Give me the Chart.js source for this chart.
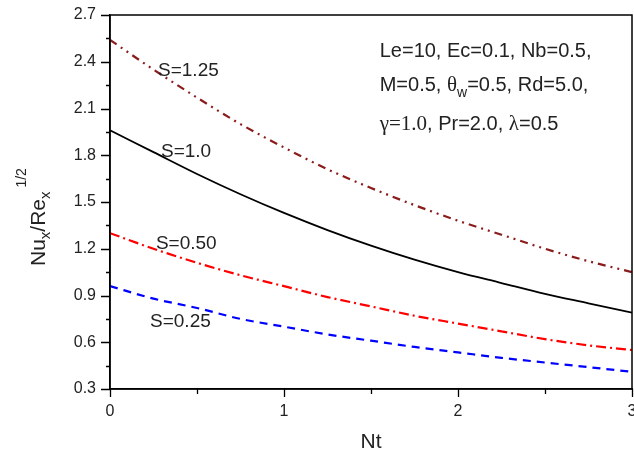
<!DOCTYPE html>
<html>
<head>
<meta charset="utf-8">
<script src="https://cdn.jsdelivr.net/npm/chart.js@4/dist/chart.umd.min.js"></script>
<style>
  body { margin: 0; background: #fff; }
  #wrap { width: 634px; height: 461px; }
</style>
</head>
<body>
<div id="wrap"><canvas id="myChart" width="634" height="461"></canvas></div>
<script>
// Nt values along the x axis
var ntValues = [0, 0.25, 0.5, 0.75, 1.0, 1.25, 1.5, 1.75, 2.0, 2.25, 2.5, 2.75, 3.0];

// Nu_x/Re_x^(1/2), one array per S
var s125 = [2.54, 2.35, 2.17, 2.00, 1.85, 1.71, 1.59, 1.48, 1.38, 1.29, 1.20, 1.12, 1.05];
var s100 = [1.96, 1.82, 1.68, 1.55, 1.43, 1.32, 1.22, 1.13, 1.05, 0.98, 0.91, 0.85, 0.79];
var s050 = [1.30, 1.20, 1.11, 1.03, 0.96, 0.89, 0.83, 0.77, 0.72, 0.67, 0.62, 0.58, 0.55];
var s025 = [0.96, 0.88, 0.82, 0.75, 0.70, 0.65, 0.61, 0.57, 0.535, 0.50, 0.47, 0.44, 0.41];

var seriesNames = ['S=1.25', 'S=1.0', 'S=0.50', 'S=0.25'];
var xTickLabels = ['0', '1', '2', '3'];
var yTickLabels = ['0.3', '0.6', '0.9', '1.2', '1.5', '1.8', '2.1', '2.4', '2.7'];

var SANS = "'Liberation Sans', Arial, sans-serif";
var SERIF = "'Liberation Serif', 'Times New Roman', serif";

function pts(ys) {
    return ys.map(function (y, i) { return { x: ntValues[i], y: y }; });
}

// where the curve labels sit, in data units (x = Nt, y = baseline value)
var labelSpots = [
    { x: 0.276, y: 2.31 },
    { x: 0.293, y: 1.79 },
    { x: 0.264, y: 1.20 },
    { x: 0.230, y: 0.70 }
];

var decorations = {
    id: 'decorations',
    afterDraw: function (chart) {
        var ctx = chart.ctx;
        var a = chart.chartArea;
        var xs = chart.scales.x, ys = chart.scales.y;
        ctx.save();

        // box round the plot
        ctx.strokeStyle = '#000';
        ctx.lineWidth = 1.5;
        ctx.strokeRect(a.left, a.top, a.right - a.left, a.bottom - a.top);

        // tick marks: long on labelled ticks, short on the others
        ctx.lineWidth = 1.3;
        ctx.beginPath();
        xs.ticks.forEach(function (t, i) {
            var px = Math.round(xs.getPixelForTick(i)) + 0.5;
            var len = t.label !== '' ? 8 : 5;
            ctx.moveTo(px, a.bottom);
            ctx.lineTo(px, a.bottom + len);
        });
        ys.ticks.forEach(function (t, i) {
            var py = Math.round(ys.getPixelForTick(i)) + 0.5;
            var len = t.label !== '' ? 9 : 4;
            ctx.moveTo(a.left, py);
            ctx.lineTo(a.left - len, py);
        });
        ctx.stroke();

        // curve labels
        ctx.fillStyle = '#222';
        ctx.font = '19px ' + SANS;
        ctx.textBaseline = 'alphabetic';
        ctx.textAlign = 'left';
        seriesNames.forEach(function (name, i) {
            ctx.fillText(name, xs.getPixelForValue(labelSpots[i].x), ys.getPixelForValue(labelSpots[i].y));
        });

        // parameter block
        function runs(x, y, parts) {
            parts.forEach(function (p) {
                ctx.font = p.f;
                ctx.fillText(p.t, x, y + (p.dy || 0));
                x += ctx.measureText(p.t).width;
            });
        }
        var bx = xs.getPixelForValue(1.55);
        var big = '20px ' + SANS, sub = '14px ' + SANS, ser = '21px ' + SERIF;
        runs(bx, ys.getPixelForValue(2.43), [{ t: 'Le=10, Ec=0.1, Nb=0.5,', f: big }]);
        runs(bx, ys.getPixelForValue(2.21), [
            { t: 'M=0.5, ', f: big },
            { t: '\u03B8', f: ser },
            { t: 'w', f: sub, dy: 6 },
            { t: '=0.5, Rd=5.0,', f: big }
        ]);
        runs(bx, ys.getPixelForValue(1.96), [
            { t: '\u03B3=1.0', f: ser },
            { t: ', Pr=2.0, ', f: big },
            { t: '\u03BB', f: ser },
            { t: '=0.5', f: big }
        ]);

        // x axis title
        ctx.font = '21px ' + SANS;
        ctx.textAlign = 'center';
        ctx.fillText('Nt', (a.left + a.right) / 2, 448);

        // y axis title, rotated
        ctx.translate(45, 266);
        ctx.rotate(-Math.PI / 2);
        ctx.textAlign = 'left';
        runs(0, 0, [
            { t: 'Nu', f: '21px ' + SANS },
            { t: 'x', f: '15px ' + SANS, dy: 5 },
            { t: '/Re', f: '21px ' + SANS },
            { t: 'x', f: '15px ' + SANS, dy: 5 },
            { t: ' 1/2', f: '14px ' + SANS, dy: -19 }
        ]);
        ctx.restore();
    }
};

var ctx = document.getElementById('myChart').getContext('2d');
var chart = new Chart(ctx, {
    type: 'line',
    data: {
        datasets: [
            { label: seriesNames[0], data: pts(s125), borderColor: '#8B1C1C', borderWidth: 2.2, borderDash: [8, 5, 2, 5, 2, 5] },
            { label: seriesNames[1], data: pts(s100), borderColor: '#000000', borderWidth: 1.8 },
            { label: seriesNames[2], data: pts(s050), borderColor: '#FF0000', borderWidth: 2.2, borderDash: [10, 4, 2, 4] },
            { label: seriesNames[3], data: pts(s025), borderColor: '#0000FF', borderWidth: 2.2, borderDash: [8, 6] }
        ]
    },
    options: {
        responsive: false,
        animation: false,
        events: [],
        layout: { padding: { left: 0, right: 2, top: 15, bottom: 0 } },
        elements: {
            point: { radius: 0 },
            line: { cubicInterpolationMode: 'monotone', fill: false }
        },
        plugins: { legend: { display: false }, tooltip: { enabled: false } },
        scales: {
            x: {
                type: 'linear',
                min: 0,
                max: 3,
                border: { display: true, color: '#000', width: 1.5 },
                grid: { display: false, drawTicks: false },
                ticks: {
                    stepSize: 0.5,
                    autoSkip: false,
                    maxRotation: 0,
                    padding: 13,
                    color: '#222',
                    font: { family: SANS, size: 16 },
                    callback: function (v) {
                        return Number.isInteger(v) ? xTickLabels[v] : '';
                    }
                },
                afterFit: function (s) { s.height = 72; s.paddingLeft = 0; s.paddingRight = 0; }
            },
            y: {
                min: 0.3,
                max: 2.7,
                border: { display: true, color: '#000', width: 1.5 },
                grid: { display: false, drawTicks: false },
                ticks: {
                    stepSize: 0.15,
                    autoSkip: false,
                    padding: 14,
                    color: '#222',
                    font: { family: SANS, size: 16 },
                    callback: function (v) {
                        var k = Math.round(v / 0.15);
                        return k % 2 === 0 ? yTickLabels[(k - 2) / 2] : '';
                    }
                },
                afterFit: function (s) { s.width = 110; s.paddingTop = 0; s.paddingBottom = 0; }
            }
        }
    },
    plugins: [decorations]
});
</script>
</body>
</html>
